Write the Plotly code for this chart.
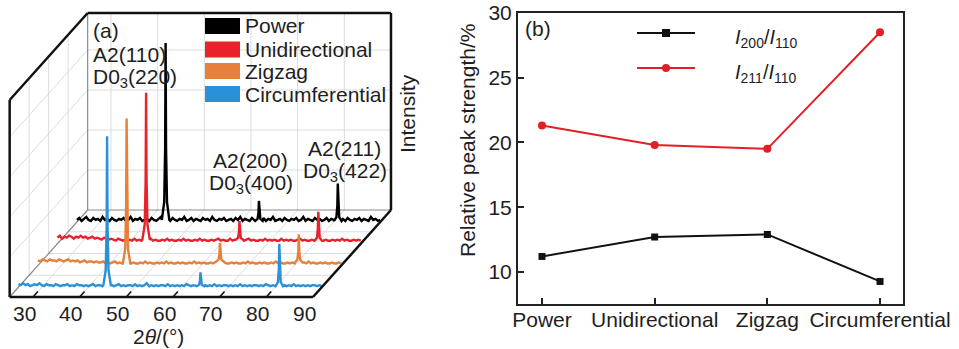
import numpy as np
import plotly.graph_objects as go

FONT = "Liberation Sans, Arial, sans-serif"
TXT = "#1e1e1e"
W, H = 959, 349

# ---------------- panel (a): XRD patterns ----------------
patterns = ["Power", "Unidirectional", "Zigzag", "Circumferential"]
pattern_colors = ["#000000", "#e8212b", "#e6803a", "#2a90d8"]

two_theta_start = 25.0
two_theta_step = 0.5

# A2(110)/D03(220), A2(200)/D03(400), A2(211)/D03(422)
peak_two_theta = [44.0, 64.0, 80.9]
peak_heights = {
    "Power":           [177.0, 20.0, 37.5],
    "Unidirectional":  [147.0, 18.7, 29.0],
    "Zigzag":          [145.0, 18.7, 28.3],
    "Circumferential": [149.0, 13.8, 42.5],
}

# background counts on the 2theta grid (25 ... 90 deg, 0.5 deg step)
background = {
    "Power": [2,4,1,3,5,2,1,4,2,3, 1,5,2,3,1,4,2,1,3,2, 4,1,2,5,1,3,2,4,1,2,
              3,1,4,2,1,3,5,1,2,3, 1,4,2,1,3,2,5,1,2,4, 1,3,2,1,4,2,3,1,5,2,
              1,3,2,4,1,2,3,1,4,2, 5,1,3,2,1,4,2,3,1,2, 4,1,3,2,5,1,2,3,1,4,
              2,1,3,2,4,1,2,5,1,3, 2,1,4,2,3,1,2,4,1,3, 2,5,1,2,3,1,4,2,1,3,
              2,4,1,3,2,1,5,2,3,1, 2],
    "Unidirectional": [6,8,5,7,6,8,7,5,7,6, 8,6,7,5,6,7,5,6,5,4, 6,5,4,5,4,3,5,4,3,4,
                       3,4,3,5,3,4,3,3,4,3, 5,3,4,3,3,4,3,5,3,4, 3,3,4,3,5,3,4,3,3,4,
                       3,5,3,4,3,3,4,3,4,5, 3,4,3,3,5,3,4,3,4,3, 3,4,5,3,4,3,3,4,3,5,
                       3,4,3,4,3,3,5,3,4,3, 4,3,3,4,5,3,4,3,3,4, 3,4,3,5,3,4,3,3,4,3,
                       4,3,5,3,4,3,3,4,3,4, 3],
    "Zigzag": [5,4,6,5,4,6,5,5,4,6, 5,4,5,6,4,5,4,5,3,4, 5,3,4,4,3,4,3,3,4,2,
               3,2,3,4,2,3,2,3,2,4, 2,3,2,2,3,2,4,2,3,2, 2,3,2,3,2,4,2,3,2,2,
               3,2,3,2,2,3,2,4,2,3, 2,3,2,2,3,2,3,2,4,2, 3,2,2,3,2,3,2,2,3,2,
               4,2,3,2,2,3,2,3,2,2, 3,2,4,2,3,2,2,3,2,3, 2,2,3,2,3,2,4,2,3,2,
               2,3,2,3,2,2,3,2,2,3, 2],
    "Circumferential": [3,2,4,2,3,1,2,3,2,4, 2,1,3,2,2,1,3,2,1,2, 2,3,1,2,1,3,2,2,1,2,
                        1,2,3,1,2,2,1,3,2,1, 2,1,2,3,1,2,1,2,2,1, 3,1,2,1,2,4,1,2,1,2,
                        1,2,2,1,3,1,2,1,2,1, 2,1,3,2,1,2,1,2,1,2, 2,1,2,1,3,1,2,1,2,2,
                        1,2,1,2,1,3,1,2,1,2, 1,2,2,1,2,1,3,2,1,2, 1,2,1,2,2,1,2,1,3,1,
                        2,1,2,1,2,1,2,2,1,2, 1],
}

peak_labels = [
    ("A2(110)", "D0<sub>3</sub>(220)"),
    ("A2(200)", "D0<sub>3</sub>(400)"),
    ("A2(211)", "D0<sub>3</sub>(422)"),
]
two_theta_ticks = [30, 40, 50, 60, 70, 80, 90]

# ---------------- panel (b): relative peak strength ----------------
routes = ["Power", "Unidirectional", "Zigzag", "Circumferential"]
ratio_200_110 = [11.2, 12.7, 12.9, 9.27]
ratio_211_110 = [21.3, 19.8, 19.5, 28.5]
strength_ticks = [10, 15, 20, 25, 30]

# ---------------- oblique projection used for panel (a) ----------------
THETA_MIN, THETA_MAX = 25.0, 90.0
DEPTH_MAX = 4.0
INT_MAX = 197.0
DEPTH_DX = 4.178    # 2theta units per depth unit
DEPTH_DY = 21.75    # intensity units per depth unit
PEAK_OFFSETS = [-0.8, -0.3, -0.1, 0.0, 0.1, 0.3, 0.8]
PEAK_SHAPE = [0.0, 0.1, 0.4, 1.0, 0.4, 0.1, 0.0]


def proj(theta, depth, inten):
    return theta + depth * DEPTH_DX, inten + depth * DEPTH_DY


def pattern_points(name):
    bg = background[name]
    grid = two_theta_start + two_theta_step * np.arange(len(bg))
    pts = list(zip(grid, bg))
    for c, h in zip(peak_two_theta, peak_heights[name]):
        base = bg[int(round((c - two_theta_start) / two_theta_step))]
        pts = [p for p in pts if abs(p[0] - c) >= PEAK_OFFSETS[-1]]
        pts += [(c + o, base + h * s) for o, s in zip(PEAK_OFFSETS, PEAK_SHAPE)]
    pts.sort()
    th = np.array([p[0] for p in pts])
    it = np.array([p[1] for p in pts], dtype=float)
    return th, it


fig = go.Figure()

depth_of = {name: 3.45 - i for i, name in enumerate(patterns)}
for name, col in zip(patterns, pattern_colors):
    th, it = pattern_points(name)
    x, y = proj(th, depth_of[name], it)
    fig.add_trace(go.Scatter(x=x, y=y, mode="lines", xaxis="x", yaxis="y",
                             line=dict(color=col, width=2.4), hoverinfo="skip",
                             showlegend=False))

shapes = []
GRID = dict(color="#dcdcdc", width=1)


def seg(p, q, line, layer="below"):
    x0, y0 = proj(*p)
    x1, y1 = proj(*q)
    shapes.append(dict(type="line", xref="x", yref="y", x0=x0, y0=y0, x1=x1, y1=y1,
                       line=line, layer=layer))


grid_int = [40, 80, 120, 160]
grid_depth = [1, 2, 3]
grid_theta = two_theta_ticks[:-1]
for t in grid_theta:
    seg((t, DEPTH_MAX, 0), (t, DEPTH_MAX, INT_MAX), GRID)      # back wall
    seg((t, 0, 0), (t, DEPTH_MAX, 0), GRID)                    # floor
for v in grid_int:
    seg((THETA_MIN, DEPTH_MAX, v), (THETA_MAX, DEPTH_MAX, v), GRID)
    seg((THETA_MIN, 0, v), (THETA_MIN, DEPTH_MAX, v), GRID)   # side wall
for d in grid_depth:
    seg((THETA_MIN, d, 0), (THETA_MIN, d, INT_MAX), GRID)
    seg((THETA_MIN, d, 0), (THETA_MAX, d, 0), GRID)

INNER = dict(color="#8a8a8a", width=1.2)
seg((THETA_MIN, DEPTH_MAX, 0), (THETA_MIN, DEPTH_MAX, INT_MAX), INNER)
seg((THETA_MIN, DEPTH_MAX, 0), (THETA_MAX, DEPTH_MAX, 0), INNER)
seg((THETA_MIN, 0, 0), (THETA_MIN, DEPTH_MAX, 0), INNER)

EDGE = dict(color="#111111", width=2.5)
outline = [
    ((THETA_MIN, 0, 0), (THETA_MIN, 0, INT_MAX)),
    ((THETA_MIN, 0, INT_MAX), (THETA_MIN, DEPTH_MAX, INT_MAX)),
    ((THETA_MIN, DEPTH_MAX, INT_MAX), (THETA_MAX, DEPTH_MAX, INT_MAX)),
    ((THETA_MAX, DEPTH_MAX, INT_MAX), (THETA_MAX, DEPTH_MAX, 0)),
    ((THETA_MAX, DEPTH_MAX, 0), (THETA_MAX, 0, 0)),
    ((THETA_MAX, 0, 0), (THETA_MIN, 0, 0)),
]
for p, q in outline:
    seg(p, q, EDGE, layer="above")

TICK = dict(color="#111111", width=1.6)
for t in grid_theta:
    seg((t, 0, 0), (t, 0.25, 0), TICK, layer="above")

annotations = []


def text(x, y, s, size=21, xanchor="center", yanchor="middle", angle=0, xref="paper", yref="paper"):
    annotations.append(dict(x=x, y=y, xref=xref, yref=yref, text=s, showarrow=False,
                            xanchor=xanchor, yanchor=yanchor, textangle=angle,
                            font=dict(family=FONT, size=size, color=TXT)))


def px(xp):
    return xp / W


def py(yp):
    return 1 - yp / H


# tick labels along the front edge of the floor
for t in two_theta_ticks:
    x, y = proj(t, -0.45, 0)
    text(x, y - 7, str(t), xref="x", yref="y")
text(px(158), py(336), "2<i>θ</i>/(°)")
text(px(407), py(114), "Intensity", angle=-90)
text(px(91), py(30), "(a)", xanchor="left")

label_pos = [(91, 54, 78, "left"), (250, 160, 184, "center"), (344, 148, 172, "center")]
for (l1, l2), (xp, y1, y2, anc) in zip(peak_labels, label_pos):
    text(px(xp), py(y1), l1, xanchor=anc)
    text(px(xp if anc == "left" else xp + 1), py(y2), l2, xanchor=anc)

# legend of panel (a)
legend_rows = [26, 49.5, 71, 94]
for name, col, yc in zip(patterns, pattern_colors, legend_rows):
    shapes.append(dict(type="rect", xref="paper", yref="paper",
                       x0=px(205), x1=px(240), y0=py(yc + 8), y1=py(yc - 8),
                       fillcolor=col, line=dict(width=0), layer="above"))
    text(px(243), py(yc), name, xanchor="left")

# ---------------- panel (b) traces ----------------
BLACK_B = "#111111"
RED_B = "#e21f26"
fig.add_trace(go.Scatter(x=routes, y=ratio_200_110, xaxis="x2", yaxis="y2",
                         mode="lines+markers", line=dict(color=BLACK_B, width=2),
                         marker=dict(symbol="square", size=7, color=BLACK_B),
                         hoverinfo="skip", showlegend=False))
fig.add_trace(go.Scatter(x=routes, y=ratio_211_110, xaxis="x2", yaxis="y2",
                         mode="lines+markers", line=dict(color=RED_B, width=2),
                         marker=dict(symbol="circle", size=8, color=RED_B),
                         hoverinfo="skip", showlegend=False))

# legend of panel (b)
for col, yc, sym, lab in [(BLACK_B, 33, "rect", "<i>I</i><sub>200</sub>/<i>I</i><sub>110</sub>"),
                          (RED_B, 68, "circle", "<i>I</i><sub>211</sub>/<i>I</i><sub>110</sub>")]:
    shapes.append(dict(type="line", xref="paper", yref="paper", x0=px(637), x1=px(695),
                       y0=py(yc), y1=py(yc), line=dict(color=col, width=2), layer="above"))
    shapes.append(dict(type=sym, xref="paper", yref="paper", xsizemode="pixel", ysizemode="pixel",
                       xanchor=px(666), yanchor=py(yc), x0=-4, x1=4, y0=-4, y1=4,
                       fillcolor=col, line=dict(width=0), layer="above"))
    text(px(733), py(yc + 5), lab, size=20, xanchor="left")

text(px(523), py(28), "(b)", xanchor="left")
text(px(467), py(141), "Relative peak strength/%", angle=-90)

axis_b = dict(showline=True, linewidth=2, linecolor="#222222", mirror=True,
              ticks="inside", ticklen=6, tickwidth=2, tickcolor="#222222",
              showgrid=False, zeroline=False, automargin=False,
              tickfont=dict(family=FONT, size=21, color=TXT))

fig.update_layout(
    width=W, height=H,
    margin=dict(l=0, r=0, t=0, b=0, autoexpand=False),
    paper_bgcolor="white", plot_bgcolor="rgba(0,0,0,0)",
    xaxis=dict(domain=[0, 420 / W], range=[22.929, 112.93], visible=False,
               fixedrange=True, automargin=False),
    yaxis=dict(domain=[0, 1], range=[-52, 297], visible=False,
               fixedrange=True, automargin=False),
    xaxis2=dict(domain=[518 / W, 903 / W], anchor="y2", range=[-0.213, 3.204],
                ticklabelstandoff=-4, **axis_b),
    yaxis2=dict(domain=[45 / H, 336.5 / H], anchor="x2", range=[7.53, 30.02],
                tickvals=strength_ticks, **axis_b),
    shapes=shapes,
    annotations=annotations,
    showlegend=False,
)

fig.write_html("out.html")
